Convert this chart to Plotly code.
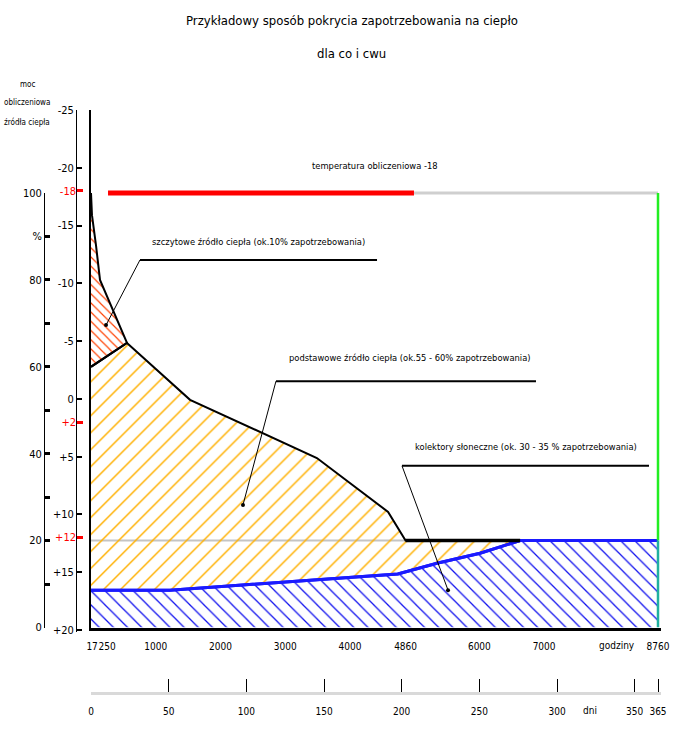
import plotly.graph_objects as go

# ---------------- data (hours of the year / % of design heat load) ----------------
hours_demand = [0, 15, 77, 139, 556, 1530, 3490, 4590, 4860, 6630]
pct_demand = [100, 94.9, 88.0, 80.0, 65.5, 52.4, 39.0, 26.6, 20.0, 20.0]

hours_split = [0, 556]          # peak / base source boundary
pct_split = [60.0, 65.5]

hours_solar = [0, 1220, 4740, 5345, 6010, 6630, 8760]
pct_solar = [8.6, 8.6, 12.3, 14.8, 17.1, 20.0, 20.0]

hours_design_red = [263, 4990]   # design temperature line (red part)
hours_design_grey = [4990, 8760]
pct_design = [100, 100]

hour_ticks = [17, 250, 1000, 2000, 3000, 4000, 4860, 6000, 7000, 8760]
hour_labels = ["17", "250", "1000", "2000", "3000", "4000", "4860", "6000", "7000", "8760"]

day_ticks = [0, 50, 100, 150, 200, 250, 300, 350, 365]
day_labels = ["0", "50", "100", "150", "200", "250", "300", "350", "365"]

temp_ticks = [-25, -20, -15, -10, -5, 0, 5, 10, 15, 20]
temp_labels = ["-25", "-20", "-15", "-10", "-5", "0", "+5", "+10", "+15", "+20"]
temp_red_ticks = [-18, 2, 12]
temp_red_labels = ["-18", "+2", "+12"]

pct_ticks = [0, 10, 20, 30, 40, 50, 60, 70, 80, 90, 100]
pct_labels = ["0", "", "20", "", "40", "", "60", "", "80", "%", "100"]

# ---------------- layout helpers ----------------
W, H = 675, 735
def px(x):
    return x / W
def py(y):
    return 1 - y / H

FONT = "Liberation Sans Narrow, DejaVu Sans Condensed, Arial Narrow, sans-serif"

HOURS_MAX = 8800                      # small room past 8760 so the end line is not clipped
X_LEFT, X_8760 = 91, 658
X_RIGHT = X_LEFT + (X_8760 - X_LEFT) * HOURS_MAX / 8760
DAYS_MAX = 365 * HOURS_MAX / 8760

fig = go.Figure()

# grey +12 °C (20 %) reference line
fig.add_trace(go.Scatter(x=[hours_demand[0], hours_demand[-2]], y=[pct_demand[-2]] * 2,
                         mode="lines", line=dict(color="#c4c4c4", width=2), hoverinfo="skip"))

# solar collectors
fig.add_trace(go.Scatter(x=hours_solar, y=pct_solar, mode="lines",
                         line=dict(color="#1a1aff", width=3),
                         fill="tozeroy", fillcolor="rgba(0,0,0,0)",
                         fillpattern=dict(shape="\\", fgcolor="#1010ee", bgcolor="rgba(0,0,0,0)",
                                          size=10, solidity=0.13, fillmode="replace"),
                         hoverinfo="skip"))

# base source
base_x = hours_split + hours_demand[5:]
base_y = pct_split + pct_demand[5:]
fig.add_trace(go.Scatter(x=base_x, y=base_y, mode="lines",
                         line=dict(color="black", width=2),
                         fill="tonexty", fillcolor="rgba(0,0,0,0)",
                         fillpattern=dict(shape="/", fgcolor="#ffb000", bgcolor="rgba(0,0,0,0)",
                                          size=12, solidity=0.12, fillmode="replace"),
                         hoverinfo="skip"))

# peak source
peak_x = hours_demand[:5] + hours_split[::-1]
peak_y = pct_demand[:5] + pct_split[::-1]
fig.add_trace(go.Scatter(x=peak_x, y=peak_y, mode="lines",
                         line=dict(color="black", width=2),
                         fill="toself", fillcolor="rgba(0,0,0,0)",
                         fillpattern=dict(shape="\\", fgcolor="#ff4000", bgcolor="rgba(0,0,0,0)",
                                          size=6.5, solidity=0.18, fillmode="replace"),
                         hoverinfo="skip"))

# solar top line redrawn on top
fig.add_trace(go.Scatter(x=hours_solar, y=pct_solar, mode="lines",
                         line=dict(color="#1a1aff", width=3), hoverinfo="skip"))

# thick black 20 % segment
fig.add_trace(go.Scatter(x=hours_demand[-2:], y=pct_demand[-2:], mode="lines",
                         line=dict(color="black", width=3.5), hoverinfo="skip"))

# design temperature line
fig.add_trace(go.Scatter(x=hours_design_grey, y=pct_design, mode="lines",
                         line=dict(color="#cfcfcf", width=3), hoverinfo="skip"))
fig.add_trace(go.Scatter(x=hours_design_red, y=pct_design, mode="lines",
                         line=dict(color="#ff0000", width=5), hoverinfo="skip"))

# end of year vertical
fig.add_trace(go.Scatter(x=[hours_solar[-1]] * 2, y=[pct_solar[-1], pct_design[0]], mode="lines",
                         line=dict(color="#22ee22", width=2.5), hoverinfo="skip"))
fig.add_trace(go.Scatter(x=[hours_solar[-1]] * 2, y=[0, pct_solar[-1]], mode="lines",
                         line=dict(color="#20b0a0", width=2.5), hoverinfo="skip"))

# invisible traces to attach the extra axes
fig.add_trace(go.Scatter(x=[0], y=[0], xaxis="x", yaxis="y2", mode="markers",
                         marker=dict(opacity=0), hoverinfo="skip"))
fig.add_trace(go.Scatter(x=[0], y=[0], xaxis="x", yaxis="y3", mode="markers",
                         marker=dict(opacity=0), hoverinfo="skip"))
fig.add_trace(go.Scatter(x=[0], y=[50], xaxis="x", yaxis="y4", mode="markers",
                         marker=dict(opacity=0), hoverinfo="skip"))
fig.add_trace(go.Scatter(x=[0], y=[0], xaxis="x2", yaxis="y", mode="markers",
                         marker=dict(opacity=0), hoverinfo="skip"))

temp_range = [-25 + (632 - 110) / 11.556, -25]

fig.update_layout(
    width=W, height=H, autosize=False,
    margin=dict(l=0, r=0, t=0, b=0, autoexpand=False),
    paper_bgcolor="white", plot_bgcolor="rgba(0,0,0,0)",
    showlegend=False,
    font=dict(family=FONT, color="black"),
    xaxis=dict(domain=[px(X_LEFT), px(X_RIGHT)], range=[0, HOURS_MAX], showgrid=False, zeroline=False,
               showline=True, linecolor="black", linewidth=3, automargin=False,
               ticks="outside", ticklen=7, tickcolor="rgba(0,0,0,0)", tickangle=0,
               tickvals=hour_ticks, ticktext=hour_labels,
               tickfont=dict(family=FONT, size=10, color="black"), anchor="y"),
    yaxis=dict(domain=[py(627.5), py(110)], range=[0, (627.5 - 110) / 4.345],
               showgrid=False, zeroline=False, showline=True, linecolor="black", linewidth=1.5,
               showticklabels=False, ticks="", automargin=False),
    yaxis2=dict(domain=[py(632), py(110)], range=temp_range, anchor="free", position=px(76),
                showgrid=False, zeroline=False, showline=True, linecolor="black", linewidth=1,
                ticks="inside", ticklen=5, tickwidth=1.5, tickcolor="black", automargin=False,
                tickvals=temp_ticks, ticktext=temp_labels,
                tickfont=dict(family=FONT, size=11, color="black")),
    yaxis3=dict(overlaying="y2", range=temp_range, anchor="free", position=px(76),
                showgrid=False, zeroline=False, showline=False, automargin=False,
                ticks="inside", ticklen=6, tickwidth=3, tickcolor="#ff0000",
                tickvals=temp_red_ticks, ticktext=temp_red_labels,
                tickfont=dict(family=FONT, size=11, color="#ff0000")),
    yaxis4=dict(domain=[py(627.5), py(193)], range=[0, 100], anchor="free", position=px(44),
                showgrid=False, zeroline=False, showline=True, linecolor="black", linewidth=1,
                ticks="inside", ticklen=5, tickwidth=2.5, tickcolor="black", automargin=False,
                tickvals=pct_ticks, ticktext=pct_labels,
                tickfont=dict(family=FONT, size=11, color="black")),
    xaxis2=dict(overlaying="x", range=[0, DAYS_MAX], anchor="free", position=py(693), side="bottom",
                showgrid=False, zeroline=False, showline=True, linecolor="#d9d9d9", linewidth=3,
                ticks="inside", ticklen=13, tickwidth=1, tickcolor="black", automargin=False,
                tickvals=day_ticks, ticktext=day_labels, ticklabelstandoff=8, tickangle=0,
                tickfont=dict(family=FONT, size=10, color="black")),
)

# ---------------- text ----------------
def note(text, x, y, size, color="black"):
    fig.add_annotation(text=text, x=px(x), y=py(y), xref="paper", yref="paper",
                       xanchor="center", yanchor="middle", showarrow=False,
                       font=dict(family=FONT, size=size, color=color))

note("Przykładowy sposób pokrycia zapotrzebowania na ciepło", 352, 20, 13)
note("dla co i cwu", 352, 53, 13)
note("moc", 27, 84, 8)
note("obliczeniowa", 27, 103, 8)
note("źródła ciepła", 27, 122, 8)
note("temperatura obliczeniowa -18", 375, 165, 9.3)
note("szczytowe źródło ciepła (ok.10% zapotrzebowania)", 258, 241, 9.3)
note("podstawowe źródło ciepła (ok.55 - 60% zapotrzebowania)", 410, 357, 9.3)
note("kolektory słoneczne (ok. 30 - 35 % zapotrzebowania)", 526, 446, 9.3)
note("godziny", 617, 645, 10)
note("dni", 590, 710, 10)

# ---------------- leader lines (hours / % coordinates) ----------------
leaders = [
    ((757, 84.6), (4419, 84.6), (232, 69.6)),
    ((2858, 56.7), (6875, 56.7), (2348, 28.2)),
    ((4805, 37.2), (8621, 37.2), (5516, 8.6)),
]
for (x0, y0), (x1, y1), (xe, ye) in leaders:
    fig.add_shape(type="line", x0=x0, y0=y0, x1=x1, y1=y1, xref="x", yref="y",
                  line=dict(color="black", width=2))
    fig.add_shape(type="line", x0=x0, y0=y0, x1=xe, y1=ye, xref="x", yref="y",
                  line=dict(color="black", width=1))
    fig.add_trace(go.Scatter(x=[xe], y=[ye], mode="markers",
                             marker=dict(color="black", size=4), hoverinfo="skip"))

fig.write_html("out.html")
